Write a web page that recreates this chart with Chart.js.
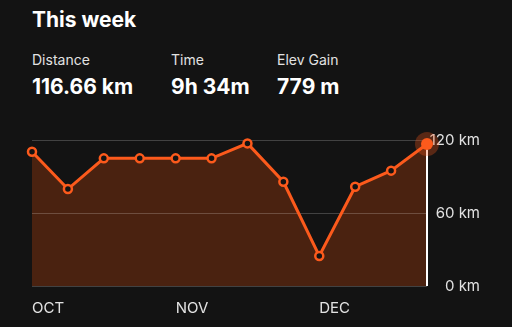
<!DOCTYPE html>
<html>
<head>
<meta charset="utf-8">
<script src="https://cdn.jsdelivr.net/npm/chart.js@4"></script>
<style>
  html, body { margin: 0; padding: 0; background: #131313; }
  body { width: 512px; height: 327px; position: relative; overflow: hidden; font-family: Inter, "Noto Sans", sans-serif; color: #fff; }
  .t { position: absolute; white-space: nowrap; line-height: 1; }
  .title { font-size: 21px; font-weight: 700; }
  .lbl { font-size: 14px; color: #e2e2e2; }
  .val { font-size: 21px; font-weight: 700; }
  #wrap { position: absolute; left: 0; top: 120px; width: 512px; height: 207px; }
</style>
</head>
<body>
<div class="t title" style="left:32px;top:9px">This week</div>
<div class="t lbl" style="left:32px;top:53px">Distance</div>
<div class="t val" style="left:32px;top:76px">116.66 km</div>
<div class="t lbl" style="left:171px;top:53px">Time</div>
<div class="t val" style="left:171px;top:76px">9h 34m</div>
<div class="t lbl" style="left:277px;top:53px">Elev Gain</div>
<div class="t val" style="left:277px;top:76px">779 m</div>
<div id="wrap"><canvas id="c"></canvas></div>
<script>
// weekly distance, km (12 weeks)
const weeks = ["w1", "w2", "w3", "w4", "w5", "w6", "w7", "w8", "w9", "w10", "w11", "w12"];
const distance = [110.4, 79.7, 104.9, 104.9, 104.9, 104.9, 117.2, 85.7, 24.7, 81.6, 94.8, 116.66];
const monthLabels = ["OCT", "", "", "", "NOV", "", "", "", "DEC", "", "", ""];
const yTicks = [0, 60, 120];

const orange = "#fc5a1c";
const last = distance.length - 1;

// halo + white marker line on the current week
const currentWeek = {
  id: "currentWeek",
  beforeDatasetsDraw(chart) {
    const ctx = chart.ctx;
    const x = chart.scales.x.getPixelForValue(last);
    const y = chart.scales.y.getPixelForValue(distance[last]);
    const y0 = chart.scales.y.getPixelForValue(0);
    ctx.save();
    ctx.strokeStyle = "#ffffff";
    ctx.lineWidth = 2;
    ctx.beginPath();
    ctx.moveTo(x, y);
    ctx.lineTo(x, y0);
    ctx.stroke();
    ctx.restore();
  },
  afterDatasetsDraw(chart) {
    const ctx = chart.ctx;
    const x = chart.scales.x.getPixelForValue(last);
    const y = chart.scales.y.getPixelForValue(distance[last]);
    ctx.save();
    ctx.fillStyle = "rgba(252, 90, 28, 0.3)";
    ctx.beginPath();
    ctx.arc(x, y, 12, 0, Math.PI * 2);
    ctx.fill();
    ctx.fillStyle = orange;
    ctx.beginPath();
    ctx.arc(x, y, 6, 0, Math.PI * 2);
    ctx.fill();
    ctx.restore();
  }
};

new Chart(document.getElementById("c"), {
  type: "line",
  data: {
    labels: weeks,
    datasets: [{
      data: distance,
      borderColor: orange,
      borderWidth: 3,
      backgroundColor: "#4a2210",
      fill: "origin",
      tension: 0,
      clip: false,
      pointRadius: distance.map((v, i) => i === last ? 0 : 4),
      pointBorderWidth: 2.5,
      pointBorderColor: orange,
      pointBackgroundColor: "#131313"
    }]
  },
  options: {
    responsive: true,
    maintainAspectRatio: false,
    animation: false,
    layout: { padding: { left: 32, top: 20, right: 32, bottom: 0 } },
    plugins: {
      legend: { display: false },
      tooltip: { enabled: false },
      filler: { drawTime: "beforeDraw" } // fill under the grid lines
    },
    scales: {
      x: {
        offset: false,
        afterFit: s => { s.height = 41; },
        grid: { display: false },
        border: { display: false },
        ticks: {
          autoSkip: false,
          maxRotation: 0,
          align: "start",
          padding: 5,
          color: "#e2e2e2",
          font: { family: "Inter", size: 15 },
          callback: (v, i) => monthLabels[i]
        }
      },
      y: {
        position: "right",
        min: 0,
        max: 120,
        afterBuildTicks: s => { s.ticks = yTicks.map(v => ({ value: v })); },
        afterFit: s => { s.width = 53; },
        grid: { color: "rgba(255,255,255,0.2)", lineWidth: 1, drawTicks: false },
        border: { display: false },
        ticks: {
          padding: 6,
          crossAlign: "far",
          color: "#e2e2e2",
          font: { family: "Inter", size: 15 },
          callback: v => v + " km"
        }
      }
    }
  },
  plugins: [currentWeek]
});
</script>
</body>
</html>
